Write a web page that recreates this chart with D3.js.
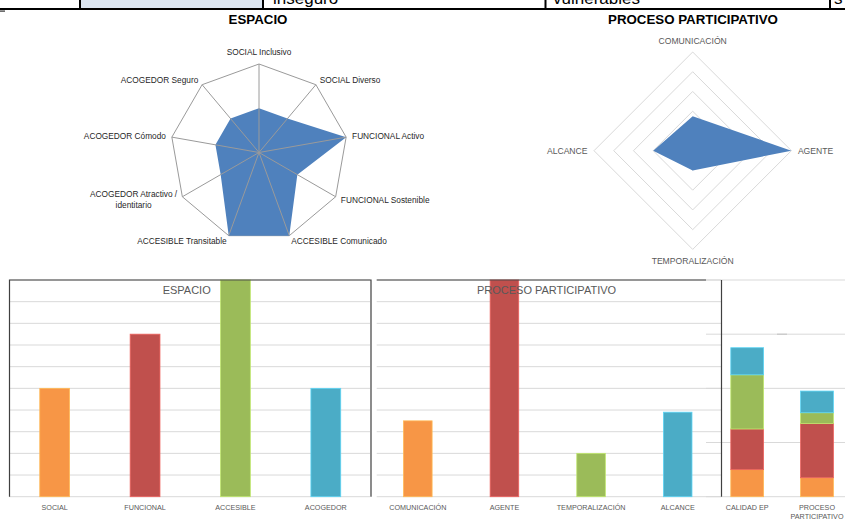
<!DOCTYPE html>
<html>
<head>
<meta charset="utf-8">
<script src="https://cdn.jsdelivr.net/npm/d3@7"></script>
<style>
  body { margin: 0; background: #fff; }
  svg { display: block; font-family: "Liberation Sans", Arial, sans-serif; }
</style>
</head>
<body>
<svg width="845" height="521"></svg>
<script>
"use strict";

// radar ESPACIO (0-4)
var espacioAxes = ["SOCIAL Inclusivo", "SOCIAL Diverso", "FUNCIONAL Activo", "FUNCIONAL Sostenible",
  "ACCESIBLE Comunicado", "ACCESIBLE Transitable", "ACOGEDOR Atractivo /\nidentitario",
  "ACOGEDOR Cómodo", "ACOGEDOR Seguro"];
var espacioValues = [2, 2, 4, 2, 4, 4, 2, 2, 2];

// radar PROCESO PARTICIPATIVO (0-5)
var procesoAxes = ["COMUNICACIÓN", "AGENTE", "TEMPORALIZACIÓN", "ALCANCE"];
var procesoValues = [1.75, 5, 1, 2];

// bar charts (%)
var espacioCats = ["SOCIAL", "FUNCIONAL", "ACCESIBLE", "ACOGEDOR"];
var espacioBars = [50, 75, 100, 50];
var procesoCats = ["COMUNICACIÓN", "AGENTE", "TEMPORALIZACIÓN", "ALCANCE"];
var procesoBars = [35, 100, 20, 39];

// stacked chart
var stackCats = ["CALIDAD EP", "PROCESO PARTICIPATIVO"];
var stackCalidad = [0.5, 0.75, 1, 0.5];
var stackProceso = [0.35, 1, 0.2, 0.4];

var barColors = ["#F79646", "#C0504D", "#9BBB59", "#4BACC6"];

var svg = d3.select("svg");
svg.append("rect").attr("width", 845).attr("height", 521).attr("fill", "#fff");

// --- piece of the table above ---
var tableG = svg.append("g");
tableG.append("rect").attr("x", 81).attr("y", 0).attr("width", 181).attr("height", 8).attr("fill", "#DBE5F1");
tableG.append("text").attr("x", 273).attr("y", 4).attr("font-size", 17).attr("fill", "#000").text("inseguro");
tableG.append("text").attr("x", 553).attr("y", 4).attr("font-size", 17).attr("fill", "#000").text("vulnerables");
tableG.append("text").attr("x", 834).attr("y", 4).attr("font-size", 17).attr("fill", "#000").text("s");
tableG.append("rect").attr("x", 0).attr("y", 8).attr("width", 845).attr("height", 2).attr("fill", "#000");
[80, 263, 545.5, 830].forEach(function(x){
  tableG.append("rect").attr("x", x - 1).attr("y", 0).attr("width", 2).attr("height", 9).attr("fill", "#000");
});
tableG.append("rect").attr("x", 0).attr("y", 10.5).attr("width", 5).attr("height", 1.2).attr("fill", "#333");

// titles
svg.append("text").attr("x", 258).attr("y", 24).attr("text-anchor", "middle")
  .attr("font-weight", "bold").attr("font-size", 13.3).attr("fill", "#000").text("ESPACIO");
svg.append("text").attr("x", 693).attr("y", 24).attr("text-anchor", "middle")
  .attr("font-weight", "bold").attr("font-size", 13.3).attr("fill", "#000").text("PROCESO PARTICIPATIVO");

// --- radar ESPACIO ---
var R1 = 88.5;
var r1 = d3.scaleLinear().domain([0, 4]).range([0, R1]);
var a1 = d3.scaleLinear().domain([0, espacioAxes.length]).range([0, 2 * Math.PI]);
var g1 = svg.append("g").attr("transform", "translate(259,152.5)");

var line1 = d3.lineRadial()
  .angle(function(d, i){ return a1(i); })
  .radius(function(d){ return r1(d); })
  .curve(d3.curveLinearClosed);

g1.append("path").attr("d", line1(espacioAxes.map(function(){ return 4; })))
  .attr("fill", "none").attr("stroke", "#9a9a9a").attr("stroke-width", 1);
g1.append("path").attr("d", line1(espacioValues)).attr("fill", "#4F81BD");
g1.selectAll("line.spoke").data(espacioAxes).enter().append("line")
  .attr("x1", 0).attr("y1", 0)
  .attr("x2", function(d, i){ return r1(4) * Math.sin(a1(i)); })
  .attr("y2", function(d, i){ return -r1(4) * Math.cos(a1(i)); })
  .attr("stroke", "#9a9a9a").attr("stroke-width", 1);

espacioAxes.forEach(function(label, i){
  var a = a1(i), s = Math.sin(a), c = Math.cos(a);
  var x = (R1 + 6) * s, y = -(R1 + 6) * c;
  var anchor = s > 0.01 ? "start" : (s < -0.01 ? "end" : "middle");
  if (anchor === "middle") y -= 6;
  var lines = label.split("\n");
  var t = g1.append("text").attr("font-size", 8.3).attr("fill", "#1f1f1f")
    .attr("text-anchor", anchor).attr("x", x).attr("y", y - (lines.length - 1) * 5.3).attr("dy", "0.35em");
  t.text(lines[0]);
  if (lines.length > 1) {
    var w = t.node().getComputedTextLength();
    var cx = x - w / 2;
    t.attr("text-anchor", "middle").attr("x", cx);
    g1.append("text").attr("font-size", 8.3).attr("fill", "#1f1f1f").attr("text-anchor", "middle")
      .attr("x", cx).attr("y", y + 5.3).attr("dy", "0.35em").text(lines[1]);
  }
});

// --- radar PROCESO PARTICIPATIVO ---
var R2 = 98.7;
var r2 = d3.scaleLinear().domain([0, 5]).range([0, R2]);
var a2 = d3.scaleLinear().domain([0, procesoAxes.length]).range([0, 2 * Math.PI]);
var g2 = svg.append("g").attr("transform", "translate(692.7,150.7)");
var line2 = d3.lineRadial()
  .angle(function(d, i){ return a2(i); })
  .radius(function(d){ return r2(d); })
  .curve(d3.curveLinearClosed);

[1, 2, 3, 4, 5].forEach(function(level){
  g2.append("path").attr("d", line2(procesoAxes.map(function(){ return level; })))
    .attr("fill", "none").attr("stroke", "#d9d9d9").attr("stroke-width", 1);
});
g2.append("path").attr("d", line2(procesoValues)).attr("fill", "#4F81BD");

procesoAxes.forEach(function(label, i){
  var a = a2(i), s = Math.sin(a), c = Math.cos(a);
  var off = Math.abs(s) > 0.5 ? 6.5 : 11.5;
  var anchor = s > 0.01 ? "start" : (s < -0.01 ? "end" : "middle");
  g2.append("text").attr("font-size", 8.6).attr("fill", "#595959")
    .attr("text-anchor", anchor)
    .attr("x", (R2 + off) * s).attr("y", -(R2 + off) * c).attr("dy", "0.35em")
    .text(label);
});

// --- bar charts ---
var yTop = 280, yBot = 496.7;

function barPanel(cats, vals, x0, x1, gx0, gx1, title, titleX) {
  var x = d3.scaleBand().domain(cats).range([x0, x1]).paddingInner(0.67).paddingOuter(0.335);
  var y = d3.scaleLinear().domain([0, 100]).range([yBot, yTop]);
  var g = svg.append("g");
  g.selectAll("line.grid").data(y.ticks(10)).enter().append("line")
    .attr("x1", gx0).attr("x2", gx1)
    .attr("y1", function(d){ return y(d); }).attr("y2", function(d){ return y(d); })
    .attr("stroke", "#d9d9d9").attr("stroke-width", 1);
  g.selectAll("rect.bar").data(vals).enter().append("rect")
    .attr("x", function(d, i){ return x(cats[i]); })
    .attr("y", function(d){ return y(d); })
    .attr("width", x.bandwidth())
    .attr("height", function(d){ return y(0) - y(d); })
    .attr("fill", function(d, i){ return barColors[i]; })
    .attr("stroke", function(d, i){ return d3.color(barColors[i]).brighter(0.6); })
    .attr("stroke-width", 0.8);
  var ax = g.append("g").attr("transform", "translate(0," + yBot + ")")
    .call(d3.axisBottom(x).tickSize(0).tickPadding(8.5));
  ax.select(".domain").remove();
  ax.selectAll("text").attr("font-size", 7.2).attr("fill", "#595959")
    .attr("font-family", "Liberation Sans, Arial, sans-serif");
  g.append("text").attr("x", titleX).attr("y", 294).attr("text-anchor", "middle")
    .attr("font-size", 11).attr("fill", "#595959").text(title);
  return g;
}

// stacked panel (drawn first, its grid sits behind panel 2)
var xs = d3.scaleBand().domain(stackCats).range([712.3, 851.9]).paddingInner(0.53).paddingOuter(0.265);
var ys = d3.scaleLinear().domain([0, 4]).range([yBot, yTop]);
var gs = svg.append("g");
gs.selectAll("line.grid").data(ys.ticks(4)).enter().append("line")
  .attr("x1", 706).attr("x2", 845)
  .attr("y1", function(d){ return ys(d); }).attr("y2", function(d){ return ys(d); })
  .attr("stroke", "#d9d9d9").attr("stroke-width", 1);
gs.append("line").attr("x1", 777).attr("x2", 787).attr("y1", ys(3)).attr("y2", ys(3))
  .attr("stroke", "#bfbfbf").attr("stroke-width", 1);

var stackRows = stackCats.map(function(c, j){
  var src = j === 0 ? stackCalidad : stackProceso;
  var row = { cat: c };
  src.forEach(function(v, k){ row[k] = v; });
  return row;
});
var layers = d3.stack().keys([0, 1, 2, 3])(stackRows);
gs.selectAll("g.layer").data(layers).enter().append("g")
  .attr("fill", function(d){ return barColors[d.key]; })
  .attr("stroke", function(d){ return d3.color(barColors[d.key]).brighter(0.6); })
  .attr("stroke-width", 0.8)
  .selectAll("rect").data(function(d){ return d; }).enter().append("rect")
  .attr("x", function(d){ return xs(d.data.cat); })
  .attr("y", function(d){ return ys(d[1]); })
  .attr("width", xs.bandwidth())
  .attr("height", function(d){ return ys(d[0]) - ys(d[1]); });

var sax = gs.append("g").attr("transform", "translate(0," + yBot + ")")
  .call(d3.axisBottom(xs).tickSize(0).tickPadding(8.5));
sax.select(".domain").remove();
sax.selectAll("text").attr("font-size", 7.2).attr("fill", "#595959")
  .attr("font-family", "Liberation Sans, Arial, sans-serif")
  .each(function(d){
    var words = d.split(" ");
    if (words.length > 1 && d !== "CALIDAD EP") {
      var t = d3.select(this).text(null);
      words.forEach(function(w, k){
        t.append("tspan").attr("x", 0).attr("dy", k === 0 ? "0.71em" : "1.25em").text(w);
      });
    }
  });

barPanel(espacioCats, espacioBars, 9.5, 371, 9.5, 370, "ESPACIO", 186.7);
barPanel(procesoCats, procesoBars, 374.5, 721, 376.7, 721, "PROCESO PARTICIPATIVO", 546.5);

// panel frames
var frame = svg.append("g").attr("fill", "none").attr("stroke", "#404040").attr("stroke-width", 1.2);
frame.append("path").attr("d", "M9.5," + yBot + "V" + yTop + "H371V" + yBot);
frame.append("path").attr("d", "M376.7," + yTop + "H706");
frame.append("path").attr("d", "M721.5," + yTop + "V" + yBot);
</script>
</body>
</html>
